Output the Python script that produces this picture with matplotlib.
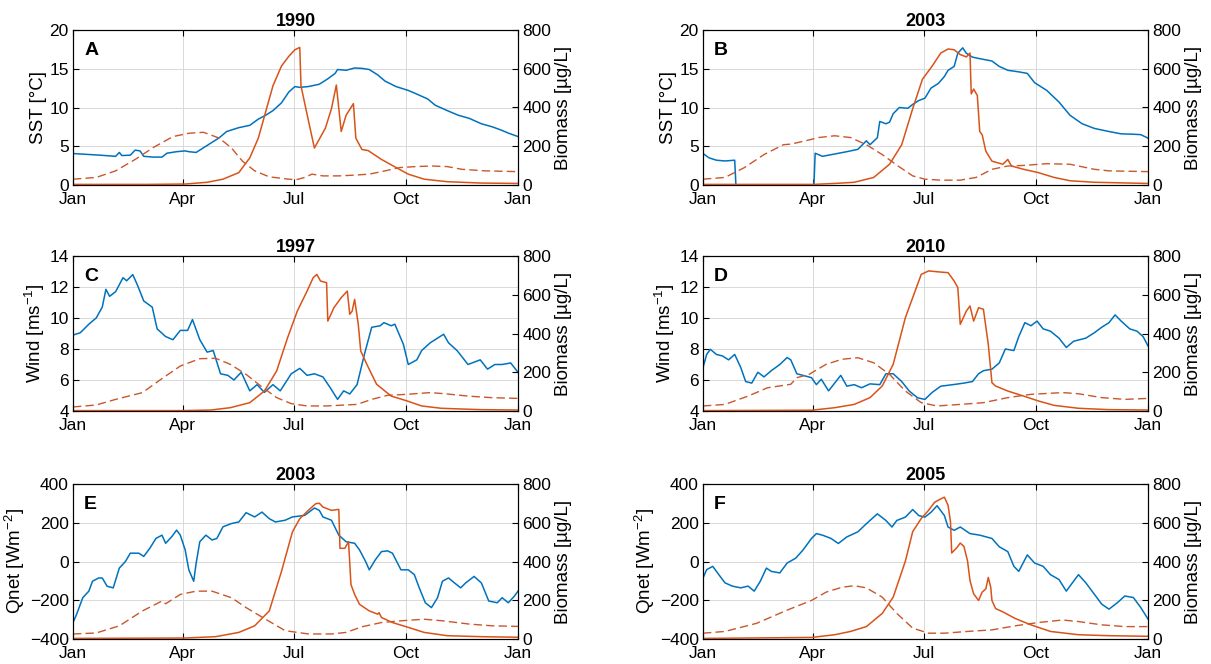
import numpy as np
import matplotlib.pyplot as plt

plt.rcParams['font.family'] = ['Liberation Sans', 'DejaVu Sans']
plt.rcParams['font.size'] = 12.5
plt.rcParams['mathtext.fontset'] = 'custom'
plt.rcParams['mathtext.rm'] = 'Liberation Sans'
plt.rcParams['mathtext.it'] = 'Liberation Sans:italic'
plt.rcParams['mathtext.bf'] = 'Liberation Sans:bold'

# ------------------------------
# Data (day of year, value)
# ------------------------------
month_labels = ["Jan", "Apr", "Jul", "Oct", "Jan"]
month_days = [0, 90, 181, 273, 365]

# A: 1990 SST
a_env_day = [0, 22, 35, 38, 40, 47, 51, 55, 58, 66, 73, 77, 85, 92, 95, 101, 107, 114, 120, 126,
             136, 145, 152, 158, 164, 171, 177, 182, 186, 193, 202, 209, 215, 217, 224, 231, 237,
             243, 250, 256, 265, 275, 281, 291, 297, 307, 316, 325, 335, 344, 351, 357, 365]
a_env = [4.06, 3.85, 3.7, 4.2, 3.8, 3.85, 4.5, 4.4, 3.7, 3.6, 3.6, 4.1, 4.3, 4.4, 4.3, 4.2, 4.8,
         5.5, 6.1, 6.9, 7.4, 7.7, 8.5, 9.0, 9.6, 10.6, 12.0, 12.7, 12.6, 12.7, 13.0, 13.7, 14.4,
         14.9, 14.8, 15.1, 15.05, 14.9, 14.2, 13.4, 12.7, 12.2, 11.8, 11.1, 10.3, 9.6, 9.0, 8.6,
         7.9, 7.5, 7.1, 6.7, 6.25]
a_bio_day = [0, 60, 92, 110, 123, 136, 145, 152, 158, 164, 171, 177, 182, 186, 187, 193, 198,
             207, 212, 216, 220, 224, 230, 232, 237, 242, 253, 265, 275, 288, 307, 335, 365]
a_bio = [3, 3, 5, 14, 30, 64, 140, 242, 377, 512, 614, 664, 698, 710, 512, 335, 191, 293, 394,
         516, 276, 360, 420, 242, 183, 178, 132, 90, 56, 30, 17, 10, 8]
a_clim_day = [0, 19, 35, 51, 66, 82, 95, 107, 120, 130, 139, 149, 161, 177, 183, 190, 196, 205,
              218, 231, 243, 256, 268, 281, 294, 307, 319, 338, 365]
a_clim = [30, 39, 73, 132, 194, 250, 267, 272, 242, 191, 123, 73, 42, 30, 27, 39, 56, 47, 47, 51,
          56, 73, 90, 95, 98, 95, 81, 73, 69]

# B: 2003 SST
b_env_day = [0, 5, 11, 18, 26, 27, 91, 92, 98, 108, 118, 127, 134, 137, 143, 145, 150, 153, 156,
             161, 168, 172, 177, 182, 187, 193, 198, 201, 206, 209, 213, 216, 221, 227, 237, 243,
             250, 259, 266, 272, 282, 292, 301, 311, 321, 333, 343, 353, 359, 365]
b_env = [4.06, 3.5, 3.2, 3.1, 3.2, 0.0, 0.0, 4.1, 3.7, 4.0, 4.3, 4.6, 5.7, 5.2, 6.1, 8.2, 7.9,
         8.1, 9.2, 10.0, 9.9, 10.4, 10.9, 11.2, 12.5, 13.1, 14.0, 14.8, 15.3, 17.0, 17.7, 17.0,
         16.5, 16.3, 16.0, 15.3, 14.8, 14.6, 14.4, 13.2, 12.2, 10.7, 9.0, 7.9, 7.3, 6.9, 6.6,
         6.55, 6.5, 6.05]
b_bio_day = [0, 90, 108, 124, 140, 153, 163, 172, 180, 188, 195, 201, 206, 211, 216, 219, 220,
             222, 225, 227, 229, 232, 237, 246, 250, 253, 263, 275, 288, 301, 321, 365]
b_bio = [3, 3, 8, 14, 39, 107, 208, 394, 546, 614, 681, 702, 698, 673, 661, 681, 470, 495, 462,
         276, 259, 174, 123, 107, 132, 98, 81, 64, 39, 22, 14, 8]
b_clim_day = [0, 18, 34, 50, 66, 72, 82, 95, 108, 121, 134, 147, 160, 172, 182, 195, 211, 224,
              237, 250, 263, 282, 301, 321, 333, 365]
b_clim = [30, 39, 90, 157, 208, 211, 225, 245, 254, 245, 208, 157, 98, 47, 30, 25, 25, 39, 81,
          98, 101, 110, 107, 81, 73, 69]

# C: 1997 wind
c_env_day = [0, 6, 13, 19, 24, 27, 30, 35, 41, 44, 49, 53, 58, 65, 69, 76, 82, 88, 94, 98, 104,
             110, 115, 121, 127, 132, 138, 145, 151, 157, 164, 170, 179, 186, 192, 198, 205, 211,
             217, 222, 227, 233, 239, 245, 252, 255, 261, 264, 271, 275, 282, 286, 293, 299, 304,
             308, 315, 324, 334, 340, 346, 352, 359, 365]
c_env = [8.9, 9.05, 9.6, 10.0, 10.7, 11.85, 11.4, 11.7, 12.6, 12.4, 12.8, 12.1, 11.1, 10.7, 9.3,
         8.8, 8.6, 9.2, 9.2, 9.9, 8.6, 7.8, 7.9, 6.4, 6.3, 6.0, 6.5, 5.3, 5.7, 5.2, 5.7, 5.3, 6.4,
         6.75, 6.3, 6.4, 6.2, 5.5, 4.75, 5.3, 5.1, 5.7, 7.65, 9.4, 9.5, 9.7, 9.5, 9.6, 8.3, 7.0,
         7.3, 7.9, 8.4, 8.7, 8.95, 8.4, 7.9, 7.0, 7.3, 6.7, 7.0, 7.0, 7.1, 6.5]
c_bio_day = [0, 90, 113, 129, 145, 157, 167, 176, 184, 192, 197, 200, 203, 208, 209, 214, 220,
             225, 227, 229, 231, 234, 236, 241, 249, 261, 274, 286, 302, 334, 365]
c_bio = [2, 2, 5, 17, 43, 103, 206, 378, 516, 619, 688, 705, 671, 662, 464, 533, 585, 619, 499,
         516, 576, 447, 310, 241, 138, 77, 52, 26, 14, 7, 5]
c_clim_day = [0, 19, 35, 57, 72, 88, 104, 117, 129, 142, 154, 167, 179, 192, 208, 233, 245, 258,
              274, 293, 305, 324, 343, 365]
c_clim = [21, 31, 60, 95, 163, 232, 270, 272, 241, 189, 129, 69, 38, 26, 26, 34, 60, 81, 86, 95,
          89, 77, 69, 65]

# D: 2010 wind
d_env_day = [0, 3, 6, 11, 16, 21, 26, 31, 35, 40, 45, 50, 56, 63, 69, 72, 77, 82, 89, 93, 97,
             103, 108, 113, 118, 124, 130, 137, 145, 150, 156, 163, 169, 176, 182, 188, 195, 205,
             214, 221, 226, 230, 237, 243, 248, 255, 259, 264, 269, 274, 279, 285, 292, 298, 304,
             314, 321, 327, 333, 338, 343, 350, 356, 361, 365]
d_env = [6.8, 7.65, 7.98, 7.65, 7.55, 7.3, 7.65, 6.8, 5.9, 5.8, 6.5, 6.2, 6.6, 7.0, 7.45, 7.3,
         6.4, 6.3, 6.15, 5.7, 6.05, 5.3, 5.8, 6.3, 5.6, 5.7, 5.5, 5.75, 5.7, 6.4, 6.4, 5.9, 5.3,
         4.85, 4.75, 5.2, 5.6, 5.7, 5.8, 5.9, 6.4, 6.6, 6.7, 7.1, 8.0, 7.9, 8.8, 9.7, 9.5, 9.8,
         9.3, 9.15, 8.7, 8.1, 8.5, 8.7, 9.05, 9.4, 9.7, 10.2, 9.8, 9.3, 9.15, 8.8, 8.2]
d_bio_day = [0, 89, 108, 124, 137, 147, 156, 166, 172, 179, 185, 195, 201, 206, 209, 211, 216,
             219, 222, 226, 230, 234, 237, 240, 250, 263, 275, 288, 308, 333, 365]
d_bio = [2, 4, 17, 34, 69, 129, 241, 482, 585, 705, 723, 717, 714, 671, 637, 447, 516, 542, 464,
         533, 525, 344, 146, 129, 103, 77, 52, 29, 14, 7, 5]
d_clim_day = [0, 18, 37, 53, 72, 77, 87, 101, 114, 127, 140, 153, 166, 179, 192, 211, 230, 250,
              269, 295, 308, 327, 346, 365]
d_clim = [26, 34, 77, 120, 138, 172, 189, 241, 267, 275, 249, 189, 103, 43, 26, 34, 43, 69, 86,
          95, 89, 69, 60, 65]

# E: 2003 Qnet
e_env_day = [0, 3, 8, 13, 16, 21, 24, 28, 33, 38, 43, 47, 54, 58, 63, 68, 73, 76, 81, 85, 88,
             92, 95, 99, 101, 104, 109, 114, 118, 123, 130, 136, 142, 149, 155, 161, 166, 174,
             180, 190, 193, 198, 202, 205, 212, 218, 224, 231, 235, 240, 243, 248, 253, 258, 262,
             269, 275, 280, 284, 289, 294, 299, 303, 308, 313, 318, 322, 329, 335, 341, 348, 352,
             357, 362, 365]
e_env = [-315, -272, -187, -153, -102, -85, -85, -128, -136, -34, 0, 43, 43, 26, 68, 119, 136,
         94, 128, 162, 136, 60, -43, -102, -9, 102, 136, 111, 119, 179, 196, 204, 252, 230, 255,
         221, 204, 213, 230, 238, 252, 276, 264, 230, 213, 136, 102, 94, 60, 0, -43, 9, 51, 55,
         43, -43, -43, -68, -136, -213, -238, -187, -102, -85, -111, -136, -111, -77, -111,
         -204, -213, -187, -213, -179, -153]
e_bio_day = [0, 92, 117, 136, 149, 161, 171, 180, 186, 193, 199, 202, 205, 212, 218, 219, 223,
             226, 228, 231, 235, 243, 250, 251, 253, 262, 275, 288, 307, 335, 365]
e_bio = [3, 5, 12, 34, 68, 145, 349, 553, 621, 664, 698, 701, 681, 664, 669, 468, 468, 502, 281,
         230, 179, 145, 128, 136, 111, 85, 60, 34, 17, 12, 9]
e_clim_day = [0, 19, 38, 57, 73, 76, 88, 101, 114, 130, 142, 158, 174, 193, 212, 224, 237, 253,
              269, 288, 303, 325, 344, 365]
e_clim = [26, 31, 68, 145, 196, 182, 230, 247, 247, 213, 162, 102, 43, 26, 26, 34, 63, 85, 94,
          102, 94, 77, 68, 65]

# F: 2005 Qnet
f_env_day = [0, 3, 8, 13, 18, 24, 31, 37, 42, 47, 52, 56, 63, 69, 76, 82, 89, 93, 98, 105, 111,
             118, 127, 134, 140, 143, 150, 155, 159, 166, 172, 177, 182, 187, 192, 198, 201, 206,
             211, 219, 227, 237, 243, 250, 255, 259, 266, 272, 279, 285, 292, 298, 303, 308, 314,
             321, 327, 333, 340, 346, 353, 359, 365]
f_env = [-85, -42, -25, -68, -110, -127, -136, -127, -153, -102, -34, -51, -59, -8, 17, 59, 119,
         144, 136, 119, 93, 127, 153, 195, 229, 246, 212, 178, 212, 229, 268, 237, 229, 254, 288,
         237, 178, 161, 178, 144, 136, 119, 76, 51, -25, -51, 34, -8, -25, -68, -93, -153, -110,
         -68, -110, -169, -220, -246, -212, -178, -186, -237, -297]
f_bio_day = [0, 89, 108, 121, 134, 147, 156, 166, 172, 179, 185, 190, 195, 198, 201, 203, 204,
             208, 211, 214, 217, 219, 222, 226, 229, 232, 234, 236, 237, 240, 246, 256, 269, 285,
             308, 333, 365]
f_bio = [3, 8, 22, 39, 64, 132, 216, 402, 554, 622, 664, 706, 723, 732, 690, 605, 444, 470, 495,
         478, 402, 301, 233, 199, 242, 259, 318, 267, 199, 157, 140, 106, 73, 39, 22, 17, 14]
f_clim_day = [0, 18, 44, 69, 89, 101, 114, 124, 134, 147, 159, 172, 185, 198, 217, 237, 256,
              275, 295, 308, 327, 346, 365]
f_clim = [30, 39, 81, 149, 199, 242, 267, 275, 264, 216, 132, 56, 30, 30, 39, 47, 68, 85, 98,
          90, 73, 64, 64]

titles = ["1990", "2003", "1997", "2010", "2003", "2005"]
letters = ["A", "B", "C", "D", "E", "F"]
left_labels = ["SST [°C]", "SST [°C]", "Wind [ms$^{-1}$]", "Wind [ms$^{-1}$]",
               "Qnet [Wm$^{-2}$]", "Qnet [Wm$^{-2}$]"]
left_limits = [(0, 20), (0, 20), (4, 14), (4, 14), (-400, 400), (-400, 400)]
left_ticks = [np.arange(0, 21, 5), np.arange(0, 21, 5), np.arange(4, 15, 2),
              np.arange(4, 15, 2), np.arange(-400, 401, 200), np.arange(-400, 401, 200)]

env_days = [a_env_day, b_env_day, c_env_day, d_env_day, e_env_day, f_env_day]
env_vals = [a_env, b_env, c_env, d_env, e_env, f_env]
bio_days = [a_bio_day, b_bio_day, c_bio_day, d_bio_day, e_bio_day, f_bio_day]
bio_vals = [a_bio, b_bio, c_bio, d_bio, e_bio, f_bio]
clim_days = [a_clim_day, b_clim_day, c_clim_day, d_clim_day, e_clim_day, f_clim_day]
clim_vals = [a_clim, b_clim, c_clim, d_clim, e_clim, f_clim]

BLUE = "#0072BD"
ORANGE = "#D95319"
DASH = "#C9572C"

# ------------------------------
# Layout (pixel-matched, 1211 x 664)
# ------------------------------
fig = plt.figure(figsize=(12.11, 6.64), dpi=100)
W, H = 1211, 664
col_left = [73, 703]
row_top = [30, 256, 484]
ax_w, ax_h = 445, 155

for i in range(6):
    r, c = divmod(i, 2)
    ax = fig.add_axes([col_left[c] / W, 1 - (row_top[r] + ax_h) / H, ax_w / W, ax_h / H])
    ax.plot(env_days[i], env_vals[i], color=BLUE, lw=1.1)
    ax.set_xlim(0, 365)
    ax.set_ylim(*left_limits[i])
    ax.set_yticks(left_ticks[i])
    ax.set_xticks(month_days)
    ax.set_xticklabels(month_labels)
    ax.grid(True, color="#d9d9d9", lw=0.7)
    ax.set_axisbelow(True)
    ax.tick_params(direction="in", length=4, top=True, labelsize=12.5)
    ax.tick_params(axis="x", pad=5)
    ax.tick_params(axis="y", pad=3)
    ax.set_ylabel(left_labels[i], fontsize=13.5, labelpad=2)
    ax.set_title(titles[i], fontweight="bold", fontsize=13, pad=3)
    ax.text(0.025, 0.84, letters[i], transform=ax.transAxes, fontweight="bold", fontsize=14)

    ax2 = ax.twinx()
    ax2.plot(clim_days[i], clim_vals[i], color=DASH, lw=1.0, dashes=(6, 3))
    ax2.plot(bio_days[i], bio_vals[i], color=ORANGE, lw=1.1)
    ax2.set_ylim(0, 800)
    ax2.set_yticks(np.arange(0, 801, 200))
    ax2.tick_params(direction="in", length=4, labelsize=12.5, pad=3)
    ax2.set_ylabel("Biomass [µg/L]", fontsize=13.5, labelpad=3)

fig.savefig("out.png", dpi=100)
